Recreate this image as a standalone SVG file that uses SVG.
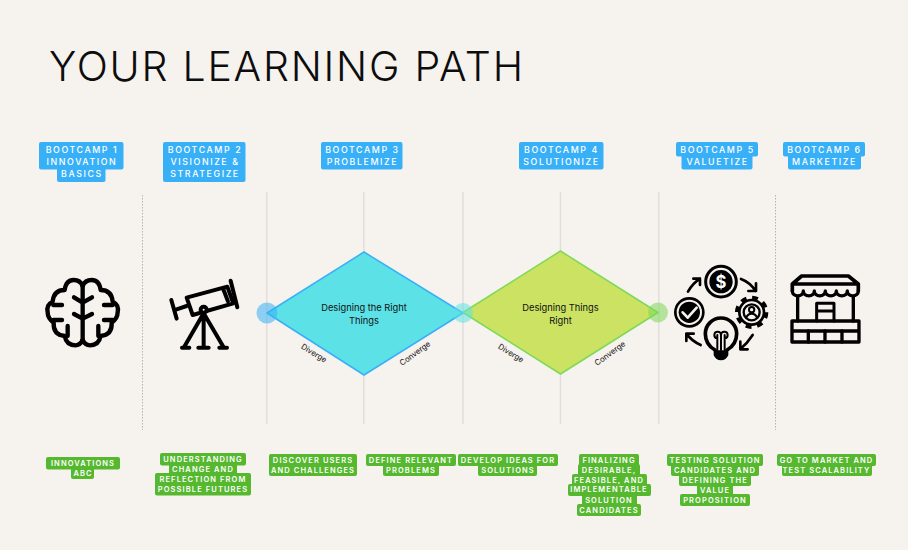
<svg xmlns="http://www.w3.org/2000/svg" width="908" height="550" viewBox="0 0 908 550">
<style>
.title{font:300 41px Inter,Lato,"Liberation Sans",sans-serif;fill:#0d0d0d}
.bl{fill:#38b0f8}
.gr{fill:#55b82e}
.bt{font:500 8.8px Inter,"Liberation Sans",sans-serif;fill:#fff;letter-spacing:1.6px;text-anchor:middle}
.gt{font:600 7.5px Inter,"Liberation Sans",sans-serif;fill:#fff;letter-spacing:1.1px;text-anchor:middle}
.dt{font:400 9.3px Inter,"Liberation Sans",sans-serif;fill:#111;text-anchor:middle}
.sm{font:400 7.8px Inter,"Liberation Sans",sans-serif;fill:#111;text-anchor:middle}
.sol{stroke:#e2dedb;stroke-width:1.5;fill:none}
.dot{stroke:#b5b3b1;stroke-width:1;stroke-dasharray:1.5 1.5;fill:none}
.ic{fill:none;stroke:#000;stroke-linecap:round;stroke-linejoin:round}
</style>
<rect width="908" height="550" fill="#f6f2ee"/>
<text id="title" class="title" x="49" y="81" textLength="474" lengthAdjust="spacing">YOUR LEARNING PATH</text>

<g id="connectors">
<path class="dot" d="M142.500 195V430M775.500 195V430"/>
<path class="sol" d="M266.800 192V424M363.800 192V424M463 192V424M560.500 192V424M658.800 192V424"/>
</g>

<g id="bootcamp-1"><rect class="bl" x="39" y="142" width="84.500" height="27.500" rx="2"/><rect class="bl" x="57" y="165" width="48.500" height="17" rx="2"/>
<text class="bt"><tspan x="82" y="152.800">BOOTCAMP 1</tspan><tspan x="82" y="165.100">INNOVATION</tspan><tspan x="82" y="177.400">BASICS</tspan></text></g>
<g id="bootcamp-2"><rect class="bl" x="163" y="142" width="82.500" height="40" rx="2"/>
<text class="bt"><tspan x="205" y="152.800">BOOTCAMP 2</tspan><tspan x="205" y="165.100">VISIONIZE &amp;</tspan><tspan x="205" y="177.400">STRATEGIZE</tspan></text></g>
<g id="bootcamp-3"><rect class="bl" x="321" y="142" width="81.500" height="27.500" rx="2"/>
<text class="bt"><tspan x="362.500" y="152.800">BOOTCAMP 3</tspan><tspan x="362.500" y="165.100">PROBLEMIZE</tspan></text></g>
<g id="bootcamp-4"><rect class="bl" x="519" y="142" width="84.500" height="27.500" rx="2"/>
<text class="bt"><tspan x="561.500" y="152.800">BOOTCAMP 4</tspan><tspan x="561.500" y="165.100">SOLUTIONIZE</tspan></text></g>
<g id="bootcamp-5"><rect class="bl" x="676" y="142" width="82" height="14.500" rx="2"/><rect class="bl" x="681.500" y="152" width="71" height="17.500" rx="2"/>
<text class="bt"><tspan x="717.500" y="152.800">BOOTCAMP 5</tspan><tspan x="717.500" y="165.100">VALUETIZE</tspan></text></g>
<g id="bootcamp-6"><rect class="bl" x="783" y="142" width="82" height="14.500" rx="2"/><rect class="bl" x="788" y="152" width="73" height="17.500" rx="2"/>
<text class="bt"><tspan x="824.500" y="152.800">BOOTCAMP 6</tspan><tspan x="824.500" y="165.100">MARKETIZE</tspan></text></g>

<g id="diamond-right-things">
<polygon points="267,313 364,252 463,313 364,375" fill="#5ce1e6" stroke="#38b0f8" stroke-width="1.500" stroke-linejoin="round"/>
<text class="dt"><tspan x="364" y="310.500">Designing the Right</tspan><tspan x="364" y="324">Things</tspan></text>
<text class="sm" transform="translate(312.500 355.500) rotate(32)">Diverge</text>
<text class="sm" transform="translate(416.500 355.500) rotate(-36)">Converge</text>
</g>
<g id="diamond-things-right">
<polygon points="463,312.500 560.500,251 658,312.500 560.500,374" fill="#cbe263" stroke="#7ed957" stroke-width="1.500" stroke-linejoin="round"/>
<text class="dt"><tspan x="560.500" y="310.500">Designing Things</tspan><tspan x="560.500" y="324">Right</tspan></text>
<text class="sm" transform="translate(509.500 355.500) rotate(32)">Diverge</text>
<text class="sm" transform="translate(611.500 355.500) rotate(-36)">Converge</text>
</g>
<g id="dots">
<circle cx="267" cy="313" r="10.500" fill="#38b0f8" opacity=".55"/>
<circle cx="463" cy="313" r="10" fill="#5ce1e6" opacity=".55"/>
<circle cx="658" cy="312.500" r="10" fill="#7ed957" opacity=".55"/>
</g>

<g id="icon-brain" transform="translate(30 260) scale(.3333)">
<g class="ic" stroke-width="13">
<path d="M158 78Q165 60 185 60Q208 60 212 90Q245 90 248 125Q268 135 263 157Q263 175 245 188Q247 225 212 228Q207 256 180 256Q165 256 158 240"/>
<path d="M158 78Q151 60 131 60Q108 60 104 90Q71 90 68 125Q48 135 53 157Q53 175 71 188Q69 225 104 228Q109 256 136 256Q151 256 158 240"/>
<path d="M158 78V240M158 128L132 112M158 128L186 112M158 176L132 162M158 176L186 162M222 135H248M222 180H248M205 198V228M96 135H70M96 180H70M113 198V228"/>
</g></g>

<g id="icon-telescope" transform="translate(30 260) scale(.3333)">
<g class="ic" stroke-width="12" stroke-linecap="butt">
<path d="M424 120L440 176M440 148L470 138"/>
<path d="M470 113L592 80L610 130L488 165Z"/>
<path d="M602 62L622 142M580 88L594 124"/>
<circle cx="521" cy="149" r="9" fill="#f6f2ee"/>
<path d="M521 160L462 262M521 160L581 262M521 160V262M456 263H478M505 263H536M568 263H591"/>
</g></g>

<g id="icon-value" transform="translate(660 255) scale(.3333)">
<circle cx="183" cy="80" r="46" fill="none" stroke="#000" stroke-width="9"/><circle cx="183" cy="80" r="35"/>
<text x="183" y="98" font-family="Inter,'Liberation Sans',sans-serif" font-weight="700" font-size="50" fill="#fff" text-anchor="middle">$</text>
<circle cx="88" cy="172" r="42" fill="none" stroke="#000" stroke-width="8"/><circle cx="88" cy="172" r="32"/>
<path d="M68 172L83 188L110 158" fill="none" stroke="#f6f2ee" stroke-width="8" stroke-linecap="round" stroke-linejoin="round"/>
<g class="ic">
<circle cx="275" cy="172" r="43" stroke-width="14" stroke-linecap="butt" stroke-dasharray="17 16.800"/>
<circle cx="275" cy="172" r="37" stroke-width="8"/>
<circle cx="275" cy="172" r="24" stroke-width="7"/>
<circle cx="275" cy="164" r="8" stroke-width="6"/>
<path d="M259 189Q262 176 275 176Q288 176 291 189" stroke-width="6"/>
<path d="M165 285Q136 268 136 236A47 47 0 0 1 230 236Q230 268 201 285" stroke-width="11"/>
<path d="M163 288H203V300Q197 314 183 314Q169 314 163 300Z" fill="#000" stroke-width="4"/>
<path d="M172 285V240M194 285V240M172 250A10 10 0 1 1 183 240V285M194 250A10 10 0 1 0 183 240" stroke-width="6"/>
<path d="M84 110Q98 85 120 71M100 71H120V90M243 72Q270 82 287 108M265 108H288V85M278 240Q262 265 241 282M241 260V283H263M122 270Q95 258 79 236M79 258V236H101" stroke-width="8"/>
</g></g>

<g id="icon-store" transform="translate(660 255) scale(.3333)">
<g class="ic" stroke-width="11">
<path d="M397 87L425 63H565L595 87M397 87H595M397 87V108M595 87V108"/>
<path d="M397 108A16 14 0 0 0 430 108A16 14 0 0 0 463 108A16 14 0 0 0 496 108A16 14 0 0 0 529 108A16 14 0 0 0 562 108A16 14 0 0 0 595 108" stroke-width="10"/>
<path d="M413 125V198M580 125V198" stroke-width="10"/>
<path d="M470 198V145H522V198M470 168H522" stroke-width="9"/>
<path d="M396 198H597V261H396ZM396 228H597" stroke-width="10"/>
<path d="M445 228V261M495 228V261M546 228V261" stroke-width="10"/>
</g></g>

<g id="note-1"><rect class="gr" x="46" y="457" width="74" height="12.500" rx="2"/><rect class="gr" x="71" y="466" width="23" height="13" rx="2"/>
<text class="gt"><tspan x="83" y="466">INNOVATIONS</tspan><tspan x="83" y="476">ABC</tspan></text></g>
<g id="note-2"><rect class="gr" x="160" y="453" width="86" height="12.500" rx="2"/><rect class="gr" x="169" y="462" width="68" height="14" rx="2"/><rect class="gr" x="155" y="473" width="96" height="22.500" rx="2"/>
<text class="gt"><tspan x="203" y="462">UNDERSTANDING</tspan><tspan x="203" y="472">CHANGE AND</tspan><tspan x="203" y="481.800">REFLECTION FROM</tspan><tspan x="203" y="491.600">POSSIBLE FUTURES</tspan></text></g>
<g id="note-3"><rect class="gr" x="269" y="454" width="88" height="22" rx="2"/>
<text class="gt"><tspan x="313" y="463">DISCOVER USERS</tspan><tspan x="313" y="473">AND CHALLENGES</tspan></text></g>
<g id="note-4"><rect class="gr" x="366" y="454" width="90" height="12" rx="2"/><rect class="gr" x="383" y="463" width="56" height="13" rx="2"/>
<text class="gt"><tspan x="411" y="463">DEFINE RELEVANT</tspan><tspan x="411" y="473">PROBLEMS</tspan></text></g>
<g id="note-5"><rect class="gr" x="458" y="454" width="100" height="12" rx="2"/><rect class="gr" x="478" y="463" width="59" height="13" rx="2"/>
<text class="gt"><tspan x="508" y="463">DEVELOP IDEAS FOR</tspan><tspan x="508" y="473">SOLUTIONS</tspan></text></g>
<g id="note-6"><rect class="gr" x="579" y="454" width="60" height="12" rx="2"/><rect class="gr" x="578" y="464" width="62" height="12" rx="2"/><rect class="gr" x="572" y="474" width="75" height="12" rx="2"/><rect class="gr" x="568" y="484" width="83" height="12" rx="2"/><rect class="gr" x="582" y="494" width="55" height="12" rx="2"/><rect class="gr" x="577" y="504" width="64" height="12" rx="2"/>
<text class="gt"><tspan x="609" y="463">FINALIZING</tspan><tspan x="609" y="472.800">DESIRABLE,</tspan><tspan x="609" y="482.600">FEASIBLE, AND</tspan><tspan x="609" y="492.400">IMPLEMENTABLE</tspan><tspan x="609" y="503">SOLUTION</tspan><tspan x="609" y="513">CANDIDATES</tspan></text></g>
<g id="note-7"><rect class="gr" x="667" y="454" width="96" height="12" rx="2"/><rect class="gr" x="671" y="464" width="88" height="12" rx="2"/><rect class="gr" x="679" y="474" width="72" height="12" rx="2"/><rect class="gr" x="697" y="484" width="36" height="12" rx="2"/><rect class="gr" x="680" y="494" width="70" height="12" rx="2"/>
<text class="gt"><tspan x="715" y="463">TESTING SOLUTION</tspan><tspan x="715" y="473">CANDIDATES AND</tspan><tspan x="715" y="482.800">DEFINING THE</tspan><tspan x="715" y="492.600">VALUE</tspan><tspan x="715" y="503">PROPOSITION</tspan></text></g>
<g id="note-8"><rect class="gr" x="777" y="454" width="99" height="12" rx="2"/><rect class="gr" x="782" y="463" width="90" height="13" rx="2"/>
<text class="gt"><tspan x="826.500" y="463">GO TO MARKET AND</tspan><tspan x="826.500" y="473">TEST SCALABILITY</tspan></text></g>
</svg>
